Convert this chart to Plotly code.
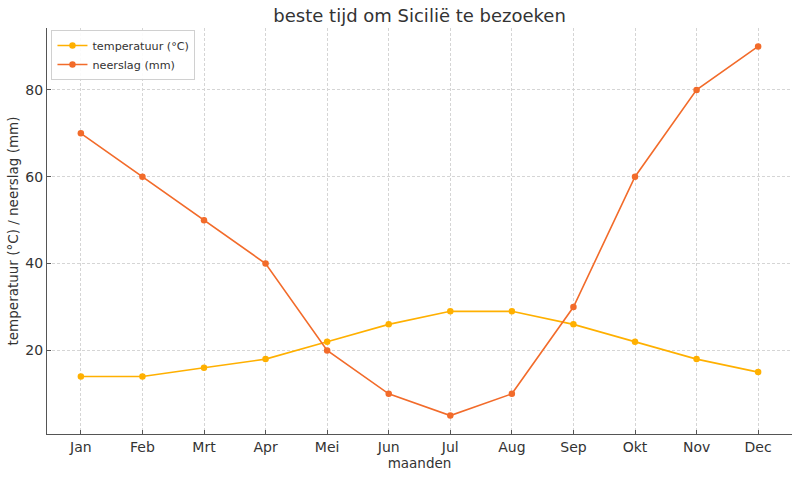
import plotly.graph_objects as go

maanden = ["Jan", "Feb", "Mrt", "Apr", "Mei", "Jun", "Jul", "Aug", "Sep", "Okt", "Nov", "Dec"]
temperatuur = [14, 14, 16, 18, 22, 26, 29, 29, 26, 22, 18, 15]
neerslag = [70, 60, 50, 40, 20, 10, 5, 10, 30, 60, 80, 90]
y_ticks = [20, 40, 60, 80]

x_idx = list(range(len(maanden)))

fig = go.Figure()
fig.add_trace(go.Scatter(x=x_idx, y=temperatuur, mode="lines+markers", name="temperatuur (°C)",
                         line=dict(color="#FFB000", width=1.6), marker=dict(size=6.5, color="#FFB000")))
fig.add_trace(go.Scatter(x=x_idx, y=neerslag, mode="lines+markers", name="neerslag (mm)",
                         line=dict(color="#F26B2A", width=1.6), marker=dict(size=6.5, color="#F26B2A")))

font = "DejaVu Sans"
fig.update_layout(
    width=800, height=477,
    margin=dict(l=47, r=8, t=28, b=43),
    paper_bgcolor="white", plot_bgcolor="white",
    font=dict(family=font, color="#333333", size=13),
    title=dict(text="beste tijd om Sicilië te bezoeken", x=0.5245, xanchor="center", y=0.968, yanchor="middle",
               font=dict(size=18, color="#333333")),
    showlegend=True,
    legend=dict(x=0.006, y=0.995, xanchor="left", yanchor="top", bordercolor="#d0d0d0", borderwidth=1,
                bgcolor="rgba(255,255,255,0.9)", font=dict(size=11.2, color="#333333"),
                tracegroupgap=0, itemwidth=30),
)
fig.update_xaxes(
    range=[-0.55, 11.55], tickmode="array", tickvals=x_idx, ticktext=maanden,
    showgrid=True, gridcolor="#d5d5d5", griddash="3px,2px", gridwidth=0.8,
    showline=True, linecolor="#555555", linewidth=1.3, mirror=False,
    ticks="inside", ticklen=4, tickcolor="#555555", zeroline=False,
    title=dict(text="maanden", standoff=2, font=dict(size=13.5)),
    tickfont=dict(size=14),
)
fig.update_yaxes(
    range=[0.75, 94.25], tickmode="array", tickvals=y_ticks,
    showgrid=True, gridcolor="#d5d5d5", griddash="3px,2px", gridwidth=0.8,
    showline=True, linecolor="#555555", linewidth=1.3, mirror=False,
    ticks="inside", ticklen=4, tickcolor="#555555", zeroline=False,
    title=dict(text="temperatuur (°C) / neerslag (mm)", standoff=3, font=dict(size=13.5)),
    tickfont=dict(size=14),
)
fig.write_html("out.html")
